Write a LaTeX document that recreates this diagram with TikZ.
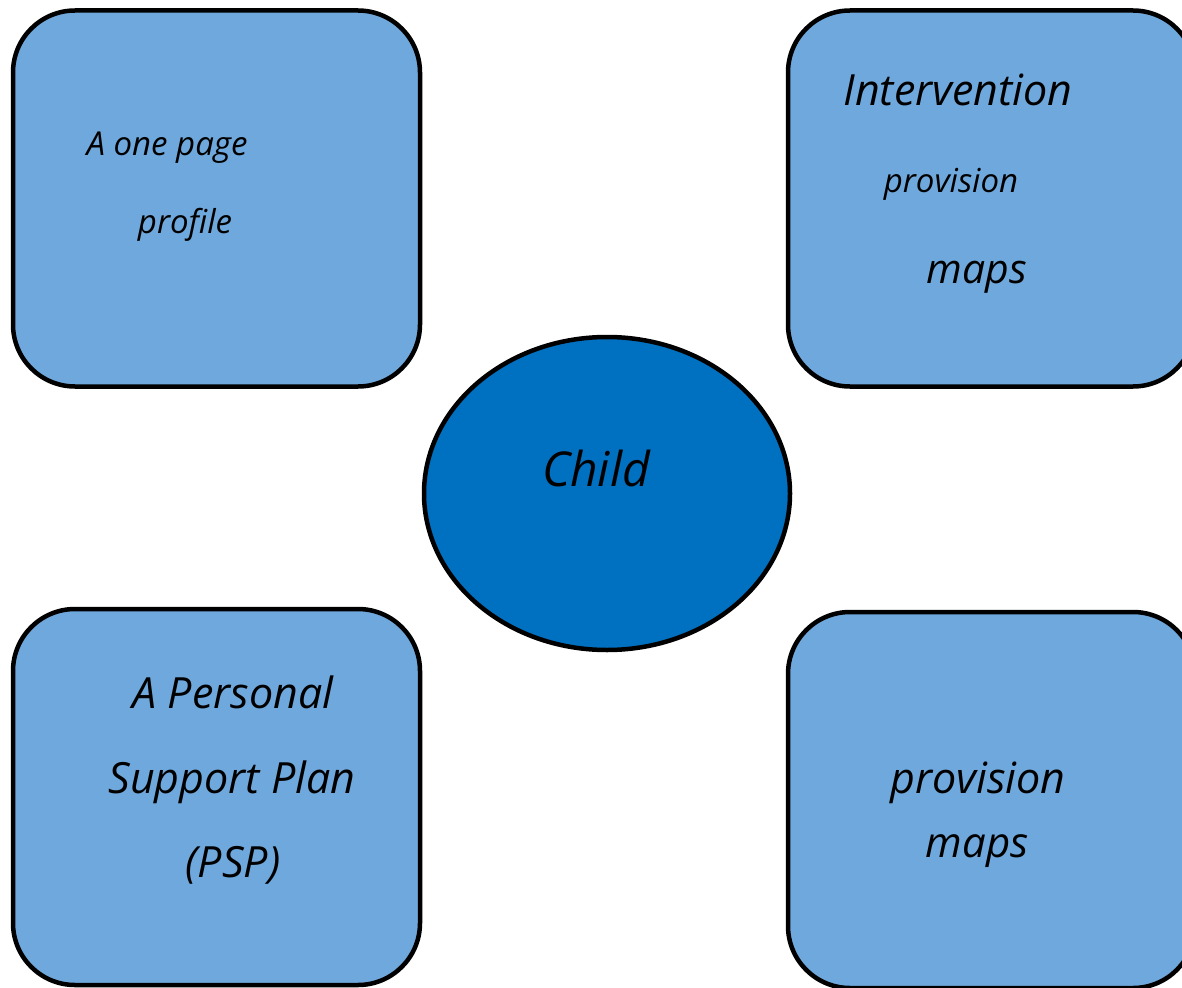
\documentclass[tikz,border=0pt]{standalone}
\usepackage{fontspec}
\setmainfont{Open Sans}
\usetikzlibrary{shapes.geometric}
\definecolor{boxfill}{RGB}{111,168,220}
\definecolor{childfill}{RGB}{0,112,192}
\tikzset{
  box/.style={draw=black, line width=4.5pt, fill=boxfill, rounded corners=62pt, minimum width=407pt, minimum height=376pt, inner sep=0pt},
  child/.style={draw=black, line width=4.5pt, fill=childfill, ellipse, minimum width=366pt, minimum height=313pt, inner sep=0pt},
  txt/.style={font=\itshape, inner sep=0pt, anchor=base}
}
\begin{document}
\begin{tikzpicture}[x=1pt,y=-1pt]
\useasboundingbox (0,0) rectangle (1182,987);
\clip (0,0) rectangle (1182,987);
\node[box] (tl) at (216.5,198.5) {};
\node[box] (tr) at (991.5,198.5) {};
\node[box] (bl) at (216.5,797) {};
\node[box] (br) at (991.5,800) {};
\node[child] (c) at (607,493.5) {};
% texts
\node[txt, font=\itshape\fontsize{33}{36}\selectfont] (t1) at (167,156) {A one page};
\node[txt, font=\itshape\fontsize{33}{36}\selectfont] (t2) at (185,233) {profile};
\node[txt, font=\itshape\fontsize{43}{46}\selectfont] (t3) at (958,106) {Intervention};
\node[txt, font=\itshape\fontsize{33}{36}\selectfont] (t4) at (951,193) {provision};
\node[txt, font=\itshape\fontsize{41}{44}\selectfont] (t5) at (977,283) {maps};
\node[txt, font=\itshape\fontsize{48}{52}\selectfont] (t6) at (596,486) {Child};
\node[txt, font=\itshape\fontsize{43}{46}\selectfont] (t7) at (233,708) {A Personal};
\node[txt, font=\itshape\fontsize{43}{46}\selectfont] (t8) at (232,793) {Support Plan};
\node[txt, font=\itshape\fontsize{43}{46}\selectfont] (t9) at (233,877) {(PSP)};
\node[txt, font=\itshape\fontsize{43}{46}\selectfont] (t10) at (978,793) {provision};
\node[txt, font=\itshape\fontsize{42}{45}\selectfont] (t11) at (977,857) {maps};
\end{tikzpicture}
\end{document}
